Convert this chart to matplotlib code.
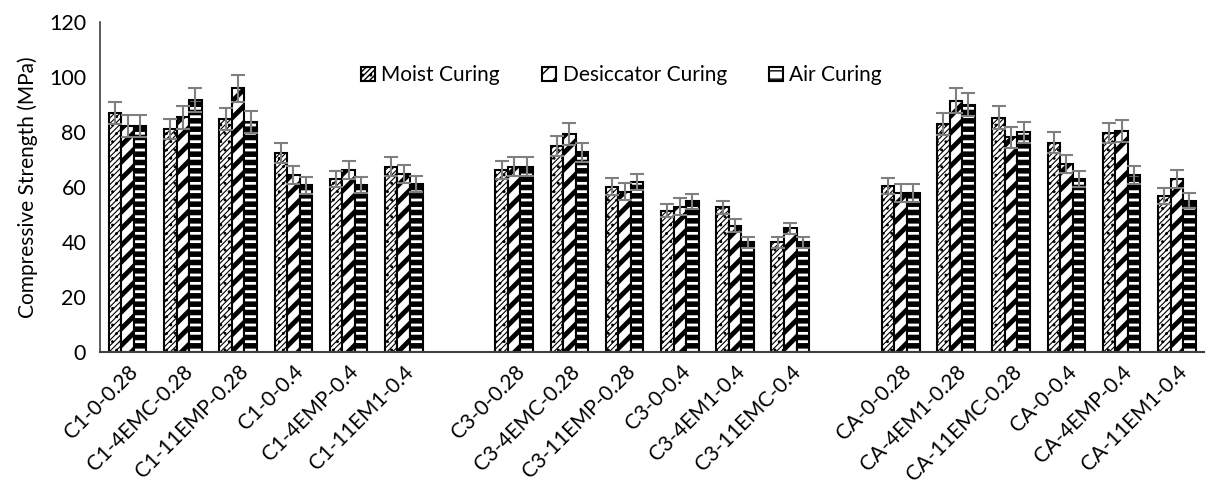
import numpy as np
import matplotlib
matplotlib.use("Agg")
import matplotlib.pyplot as plt

plt.rcParams['font.family'] = ['Lato', 'DejaVu Sans']

# mix names, blank entries are the gaps between the cement groups
labels = ["C1-0-0.28", "C1-4EMC-0.28", "C1-11EMP-0.28", "C1-0-0.4", "C1-4EMP-0.4", "C1-11EM1-0.4", "",
          "C3-0-0.28", "C3-4EMC-0.28", "C3-11EMP-0.28", "C3-0-0.4", "C3-4EM1-0.4", "C3-11EMC-0.4", "",
          "CA-0-0.28", "CA-4EM1-0.28", "CA-11EMC-0.28", "CA-0-0.4", "CA-4EMP-0.4", "CA-11EM1-0.4"]

nan = np.nan
moist = [86.8, 81.0, 84.6, 72.2, 62.8, 67.4, nan,
         66.2, 74.9, 60.1, 51.4, 52.5, 39.8, nan,
         60.4, 82.9, 85.2, 76.1, 79.5, 56.7]
moist_err = [4.0, 3.6, 4.0, 3.7, 3.0, 3.3, nan,
             3.3, 3.6, 3.0, 2.5, 2.5, 2.0, nan,
             3.0, 3.9, 4.3, 3.7, 3.7, 2.8]
desic = [82.2, 85.3, 95.8, 64.4, 66.2, 64.7, nan,
         67.4, 79.2, 58.3, 52.8, 45.9, 45.0, nan,
         57.8, 91.4, 78.1, 68.4, 80.4, 62.9]
desic_err = [4.0, 4.2, 5.0, 3.3, 3.3, 3.3, nan,
             3.3, 4.0, 3.0, 3.0, 2.3, 2.0, nan,
             3.2, 4.5, 3.8, 3.2, 4.0, 3.3]
air = [82.0, 91.6, 83.5, 60.5, 60.7, 61.1, nan,
       67.4, 72.6, 61.7, 54.7, 39.9, 39.9, nan,
       57.8, 89.8, 79.8, 62.8, 64.4, 55.0]
air_err = [4.0, 4.2, 4.0, 3.0, 2.8, 3.0, nan,
           3.3, 3.5, 3.0, 2.8, 2.0, 2.0, nan,
           3.2, 4.2, 3.7, 3.0, 3.2, 2.7]

series = [("Moist Curing", moist, moist_err, "//////..", 0.8),
          ("Desiccator Curing", desic, desic_err, "//", 3.5),
          ("Air Curing", air, air_err, "--", 4.0)]

fig = plt.figure(figsize=(12.11, 4.86), dpi=100)
ax = fig.add_axes([0.0826, 0.276, 0.912, 0.679])

x = np.arange(len(labels))
w = 0.227
handles = []
for k, (name, vals, errs, hatch, hlw) in enumerate(series):
    bars = ax.bar(x + (k - 1) * w, vals, w, color="white", edgecolor="black",
                  linewidth=1.5, hatch=hatch, label=name,
                  yerr=errs, error_kw=dict(ecolor="#7f7f7f", elinewidth=1.5, capsize=5, capthick=1.5))
    for b in bars:
        if hasattr(b, "set_hatch_linewidth"):
            b.set_hatch_linewidth(hlw)
    handles.append(bars)

ax.set_xlim(-0.5, len(labels) - 0.5)
ax.set_ylim(0, 120)
ax.set_yticks(range(0, 121, 20))
ax.set_xticks(x)
ax.set_xticklabels(labels, rotation=45, ha="right", rotation_mode="anchor", fontsize=15)
ax.tick_params(axis="y", length=0, labelsize=15.5, pad=10)
ax.tick_params(axis="x", length=0, pad=7)
ax.set_ylabel("Compressive Strength (MPa)", fontsize=15, labelpad=8)
for s in ["top", "right"]:
    ax.spines[s].set_visible(False)
ax.spines["left"].set_color("#404040")
ax.spines["bottom"].set_color("#404040")
ax.spines["left"].set_linewidth(1.2)
ax.spines["bottom"].set_linewidth(1.5)

ax.legend(handles=handles, loc="upper center", bbox_to_anchor=(0.472, 0.925), ncol=3, frameon=False,
          fontsize=15, handlelength=0.7, handleheight=0.7, handletextpad=0.3, columnspacing=2.0)

fig.savefig("out.png", dpi=100)
